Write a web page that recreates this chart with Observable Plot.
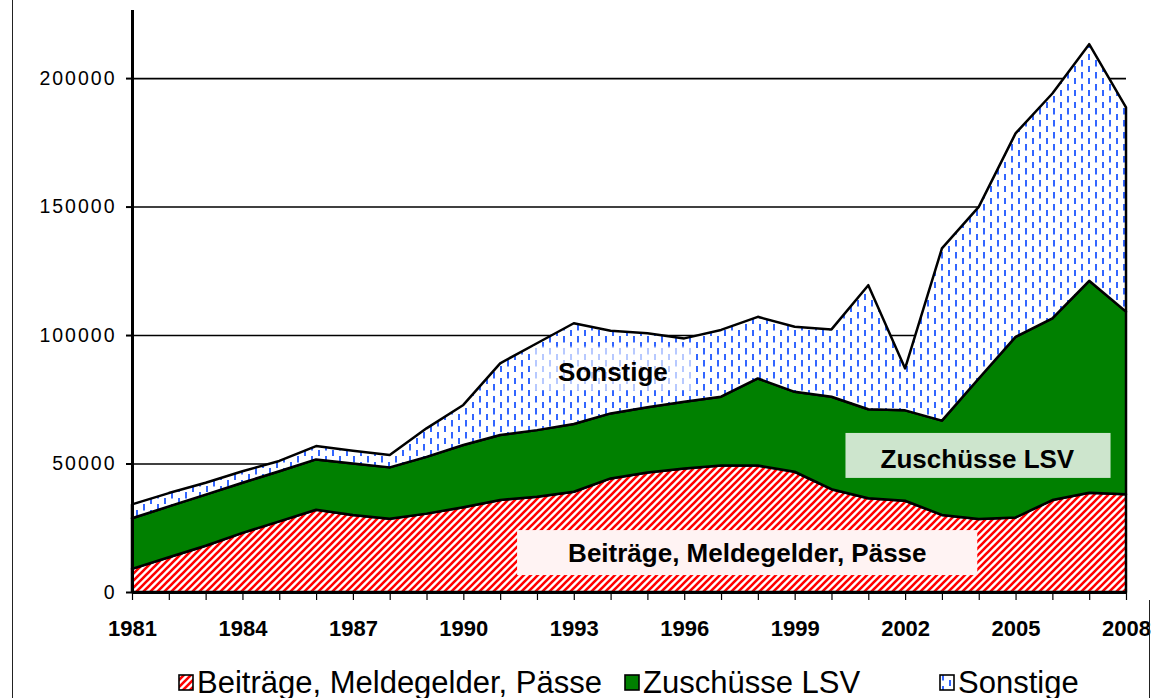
<!DOCTYPE html>
<html><head><meta charset="utf-8">
<script src="https://cdn.jsdelivr.net/npm/d3@7"></script>
<script src="https://cdn.jsdelivr.net/npm/@observablehq/plot@0.6"></script>
<style>
html,body{margin:0;padding:0;background:#fff;}
body{width:1151px;height:698px;overflow:hidden;position:relative;font-family:Arial,"Liberation Sans",sans-serif;}
#chart{position:absolute;left:0;top:0;}
.frame{position:absolute;width:1px;background:#222;z-index:5;}
.legend-item{position:absolute;top:667px;font-size:31px;line-height:31px;white-space:nowrap;display:flex;align-items:center;color:#000;}
.legend-item svg{margin-right:3px;}
</style></head>
<body>
<svg width="0" height="0" style="position:absolute">
<defs>
<pattern id="hatch" patternUnits="userSpaceOnUse" width="7" height="7">
<rect width="7" height="7" fill="#fff"/>
<path d="M-1.75,1.75 l3.5,-3.5 M0,7 l7,-7 M5.25,8.75 l3.5,-3.5" stroke="#ff0000" stroke-width="2.6"/>
</pattern>
<pattern id="dash" patternUnits="userSpaceOnUse" width="14" height="12">
<rect width="14" height="12" fill="#fff"/>
<rect x="3" y="0" width="2" height="6.5" fill="#3366ff"/>
<rect x="10" y="6" width="2" height="6.5" fill="#3366ff"/>
</pattern>
</defs></svg>
<div id="chart"></div>
<div id="legend"></div>
<div class="frame" style="left:12px;top:0;height:698px"></div>
<div class="frame" style="left:1149px;top:600px;height:98px"></div>
<script>
const years = [1981,1982,1983,1984,1985,1986,1987,1988,1989,1990,1991,1992,1993,1994,1995,1996,1997,1998,1999,2000,2001,2002,2003,2004,2005,2006,2007,2008];
const seriesNames = ["Beiträge, Meldegelder, Pässe", "Zuschüsse LSV", "Sonstige"];
const beitraege = [9000,13500,18000,23000,27500,32000,30000,28500,30500,33000,35800,37100,39000,44200,46500,48100,49200,49200,46800,40000,36500,35500,30000,28400,29000,35800,38600,38000];
const zuschuesse = [19700,19800,19900,19500,19500,19600,20000,20000,22100,24200,25300,25900,26400,25300,25400,25900,26800,33900,31100,36000,34600,35200,36700,54700,70300,70700,82500,71100];
const sonstige = [5400,5200,4600,4500,4000,5200,5000,4800,11100,15600,27900,33800,39200,32200,28800,24700,26000,24000,25300,26200,48300,16300,67000,66800,79200,87500,92100,79500];
const yTicks = [0,50000,100000,150000,200000];
const seriesFills = ["url(#hatch)", "#008000", "url(#dash)"];

// in-chart labels (data coordinates)
const labelText = ["Sonstige", "Zuschüsse LSV", "Beiträge, Meldegelder, Pässe"];
const labelX = [1994.05, 2003.95, 1997.7];
const labelY = [85600, 51700, 15200];
const boxX1 = [1991.9, 2000.38, 1991.46];
const boxX2 = [1996.3, 2007.58, 2003.96];
const boxY1 = [78500, 44400, 6600];
const boxY2 = [95500, 61900, 24100];
const boxFill = ["#ffffff", "#cde5cd", "#fff3f3"];
const boxOpacity = [0.65, 1, 1];

const table = [];
const vals = [beitraege, zuschuesse, sonstige];
seriesNames.forEach((s, i) => years.forEach((yr, j) => table.push({year: yr, series: s, value: vals[i][j]})));
const labels = labelText.map((t, i) => ({text: t, x: labelX[i], y: labelY[i]}));
const boxes = labelText.map((t, i) => ({x1: boxX1[i], x2: boxX2[i], y1: boxY1[i], y2: boxY2[i], fill: boxFill[i], op: boxOpacity[i]}));

const plot = Plot.plot({
  width: 1151, height: 650,
  marginLeft: 132, marginRight: 25, marginTop: 10, marginBottom: 58,
  style: {fontFamily: "Arial, 'Liberation Sans', sans-serif", background: "transparent", color: "black"},
  x: {domain: [1981, 2008]},
  y: {domain: [0, 226500]},
  color: {domain: seriesNames, range: seriesFills},
  marks: [
    Plot.ruleY(yTicks.slice(1), {x1: 1981, x2: 2008, stroke: "black", strokeWidth: 1.6}),
    Plot.areaY(table, Plot.stackY({x: "year", y: "value", z: "series", order: seriesNames, fill: "series", stroke: "black", strokeWidth: 2.5, strokeLinejoin: "round"})),
    Plot.rect(boxes, {x1: "x1", x2: "x2", y1: "y1", y2: "y2", fill: "fill", fillOpacity: "op"}),
    Plot.text(labels, {x: "x", y: "y", text: "text", fontSize: 26, fontWeight: "bold", fill: "black", fontFamily: "Arial, 'Liberation Sans', sans-serif"}),
    Plot.ruleX([1981], {y1: 0, y2: 226500, stroke: "black", strokeWidth: 3}),
    Plot.ruleY([0], {x1: 1981, x2: 2008, stroke: "black", strokeWidth: 3}),
    Plot.axisY({ticks: yTicks, tickSize: 6, tickPadding: 10, tickFormat: d => String(d), fontSize: 19.5, label: null, stroke: "black", strokeWidth: 2, fill: "#000"}),
    Plot.axisX({ticks: years, tickSize: 8, tickPadding: 20, tickFormat: d => ((d - 1981) % 3 === 0 ? String(d) : ""), fontSize: 22, fontWeight: "bold", label: null, stroke: "black", strokeWidth: 1.2, fill: "black"})
  ]
});
document.getElementById("chart").appendChild(plot);
plot.querySelectorAll('g[aria-label="y-axis tick label"] text').forEach(t => t.style.letterSpacing = "2px");

// legend
const leg = document.getElementById("legend");
const legLeft = [178, 624, 939];
seriesNames.forEach((s, i) => {
  const item = document.createElement("div");
  item.className = "legend-item";
  item.style.left = legLeft[i] + "px";
  item.innerHTML = `<svg width="16" height="17"><rect x="1" y="1" width="14" height="15" fill="${seriesFills[i]}" stroke="black" stroke-width="1.6"/></svg><span>${s}</span>`;
  leg.appendChild(item);
});
</script>
</body></html>
